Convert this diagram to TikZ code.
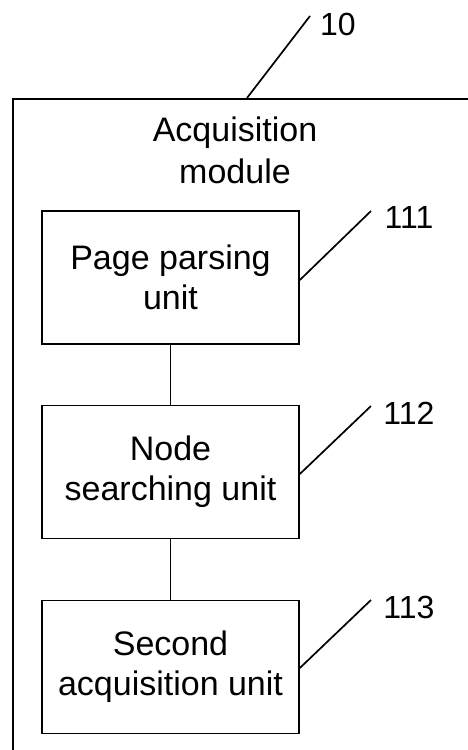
\documentclass[tikz,border=0pt]{standalone}
\usepackage{fontspec}
\setmainfont{Liberation Sans}
\begin{document}
\begin{tikzpicture}[x=1pt,y=-1pt,
  unitbox/.style={draw,line width=1.7pt,minimum width=257pt,minimum height=133pt,
    inner sep=0pt,align=center,font=\fontsize{34}{40}\selectfont},
  refnum/.style={inner sep=0pt,font=\fontsize{32}{38}\selectfont},
  leader/.style={line width=1.7pt},
  link/.style={line width=1.7pt}]
\useasboundingbox (0,0) rectangle (468,750);
\clip (0,0) rectangle (468,750);
\fill[white] (0,0) rectangle (468,750);

% outer module frame (runs past the right and bottom edges)
\node[draw,line width=1.9pt,anchor=north west,minimum width=520pt,minimum height=720pt,inner sep=0pt]
  (module) at (12,98) {};
\node[align=center,inner sep=0pt,font=\fontsize{34}{42}\selectfont] (title) at (235,150)
  {Acquisition\\module};

% units
\node[unitbox] (b1) at (170.5,277.5) {Page parsing\\unit};
\node[unitbox] (b2) at (170.5,472) {Node\\searching unit};
\node[unitbox] (b3) at (170.5,667) {Second\\acquisition unit};

\draw[link] (b1.south) -- (b2.north);
\draw[link] (b2.south) -- (b3.north);

% reference numerals
\node[refnum] (n10) at (338,24) {10};
\node[refnum] (n111) at (409,217) {111};
\node[refnum] (n112) at (409,413) {112};
\node[refnum] (n113) at (409,607) {113};

\coordinate (t10) at (310,16);
\coordinate (t111) at (371,211);
\coordinate (t112) at (371,406);
\coordinate (t113) at (371,600);

\draw[leader] (module.north west -| 247,0) -- (t10);
\draw[leader] ([yshift=-2.5pt]b1.east) -- (t111);
\draw[leader] ([yshift=-2pt]b2.east) -- (t112);
\draw[leader] ([yshift=-1pt]b3.east) -- (t113);
\end{tikzpicture}
\end{document}
